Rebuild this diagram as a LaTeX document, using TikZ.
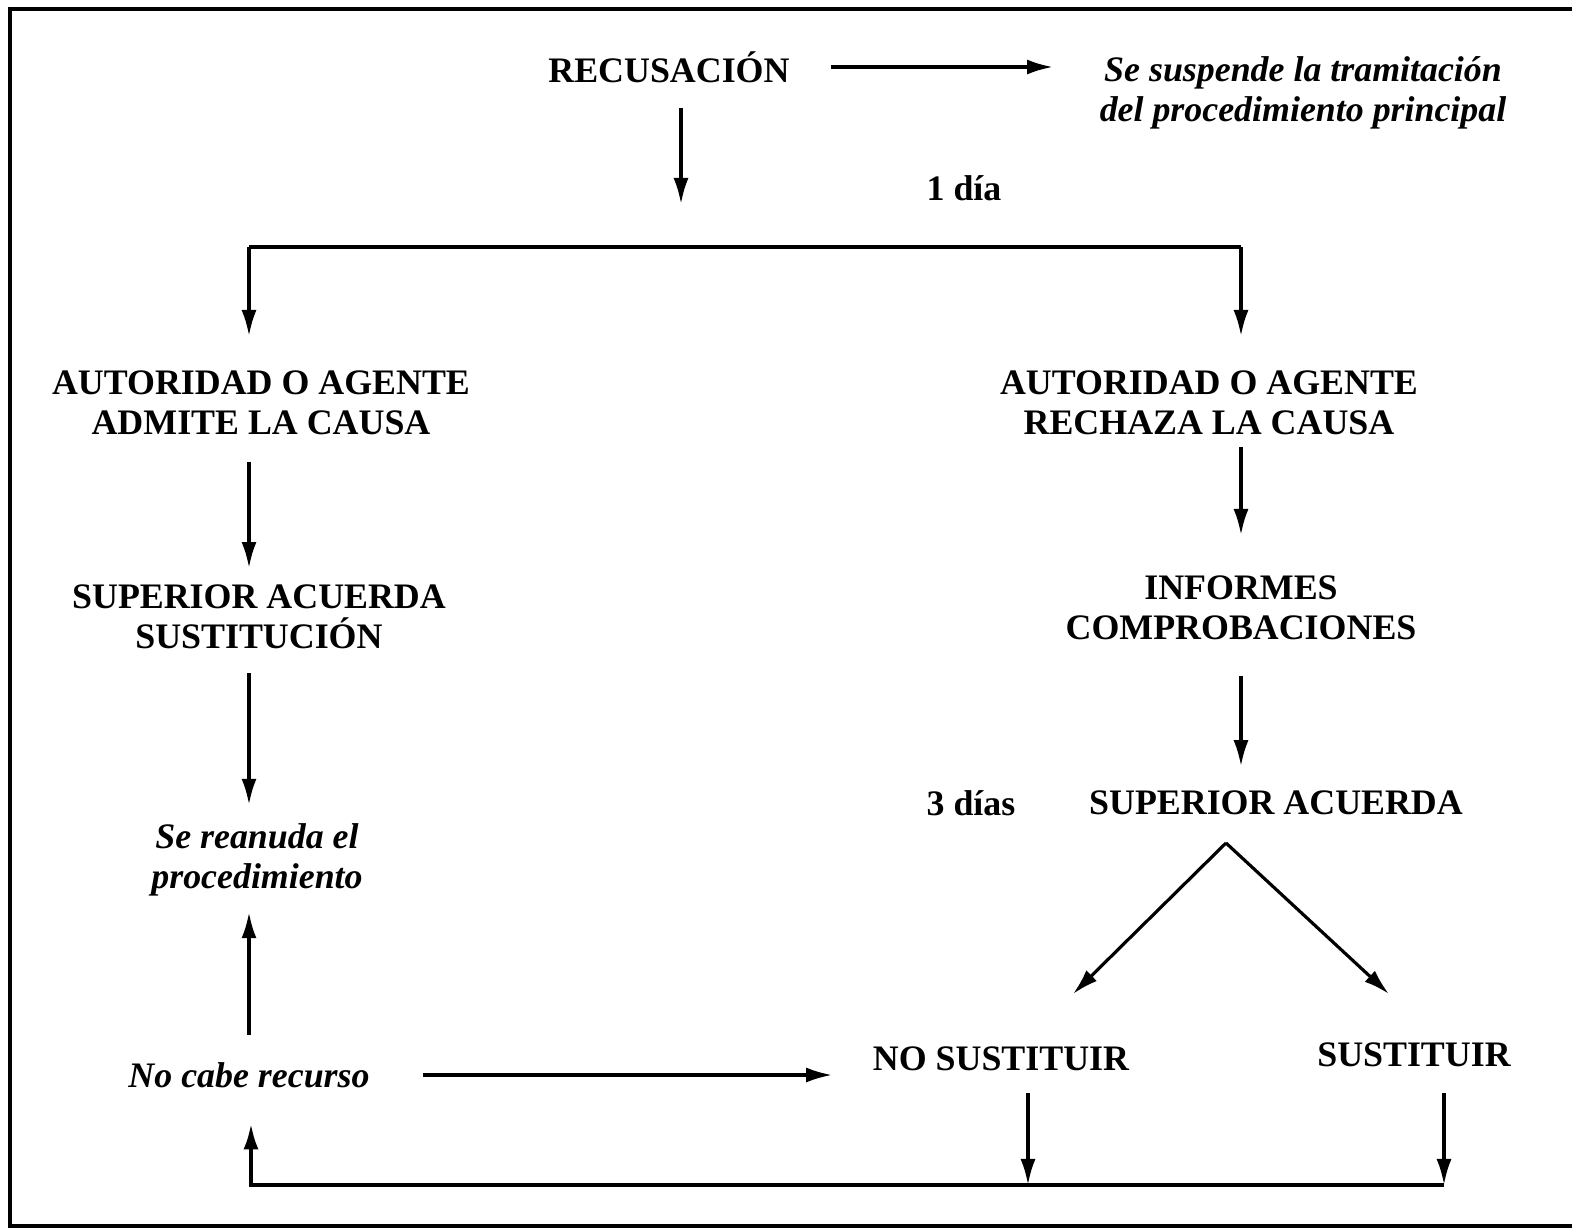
\documentclass[tikz,border=0pt]{standalone}
\usepackage{fontspec}
\setmainfont{Liberation Serif}
\usetikzlibrary{arrows.meta}

\begin{document}
\begin{tikzpicture}[x=0.01cm,y=-0.01cm,
        paso/.style={font=\fontsize{10.2}{11.5}\selectfont\bfseries,align=center,inner sep=0pt},
        nota/.style={font=\fontsize{10.2}{11.5}\selectfont\bfseries\itshape,align=center,inner sep=0pt},
        flecha/.style={line width=0.9pt,-{Latex[length=0.26cm,width=0.15cm]}},
        linea/.style={line width=0.9pt}
    ]
            \useasboundingbox (0,0) rectangle (1578,1230);
            \draw[line width=1.1pt] (1572,9) -- (10,9) -- (10,1226) -- (1572,1226);

            \node[paso] (rec) at (669,67) {RECUSACIÓN};
            \node[nota] (susp) at (1303,93) {Se suspende la tramitación\\del procedimiento principal};
            \node[paso] (dia1) at (964,188) {1 día};
            \node[paso] (adm) at (261,403) {AUTORIDAD O AGENTE\\ADMITE LA CAUSA};
            \node[paso] (rech) at (1209,403) {AUTORIDAD O AGENTE\\RECHAZA LA CAUSA};
            \node[paso] (supsust) at (259,617) {SUPERIOR ACUERDA\\SUSTITUCIÓN};
            \node[paso] (inf) at (1241,608) {INFORMES\\COMPROBACIONES};
            \node[nota] (reanuda) at (257,860) {Se reanuda el\\procedimiento};
            \node[paso] (dias3) at (971,803) {3 días};
            \node[paso] (supac) at (1276,803) {SUPERIOR ACUERDA};
            \node[nota] (nocabe) at (249,1075) {No cabe recurso};
            \node[paso] (nosust) at (1001,1059) {NO SUSTITUIR};
            \node[paso] (sust) at (1414,1055) {SUSTITUIR};

            \coordinate (baja) at (681,204);
            \coordinate (sizq) at (249,247);
            \coordinate (sder) at (1241,247);
            \coordinate (pico) at (1226,843);
            \coordinate (dizq) at (1073,994);
            \coordinate (dder) at (1389,994);
            \coordinate (bizq) at (251,1185);
            \coordinate (bnos) at (1028,1185);
            \coordinate (bsus) at (1444,1185);

            \draw[flecha,shorten <=0.41cm,shorten >=0.46cm] (rec.east) -- (rec.east -| susp.west);
            \draw[flecha,shorten <=0.25cm] (rec.south -| baja) -- (baja);
            \draw[linea] (sizq) -- (sder);
            \draw[flecha,shorten >=0.34cm] (sizq) -- (adm.north -| sizq);
            \draw[flecha,shorten >=0.34cm] (sder) -- (rech.north -| sder);
            \draw[flecha,shorten <=0.26cm,shorten >=0.16cm] (adm.south -| sizq) -- (supsust.north -| sizq);
            \draw[flecha,shorten <=0.23cm,shorten >=0.18cm] (supsust.south -| sizq) -- (reanuda.north -| sizq);
            \draw[flecha,shorten <=0.27cm,shorten >=0.15cm] (nocabe.north -| sizq) -- (reanuda.south -| sizq);
            \draw[flecha,shorten <=0.53cm,shorten >=0.40cm] (nocabe.east) -- (nocabe.east -| nosust.west);
            \draw[flecha,shorten <=0.11cm,shorten >=0.40cm] (rech.south -| sder) -- (inf.north -| sder);
            \draw[flecha,shorten <=0.35cm,shorten >=0.24cm] (inf.south -| sder) -- (supac.north -| sder);
            \draw[flecha] (pico) -- (dizq);
            \draw[flecha] (pico) -- (dder);
            \draw[flecha,shorten <=0.21cm] (nosust.south -| bnos) -- (bnos);
            \draw[flecha,shorten <=0.25cm] (sust.south -| bsus) -- (bsus);
            \draw[flecha,line width=1.1pt,shorten >=0.35cm] (bsus) -- (bizq) -- (nocabe.south -| bizq);
        \end{tikzpicture}
\end{document}
